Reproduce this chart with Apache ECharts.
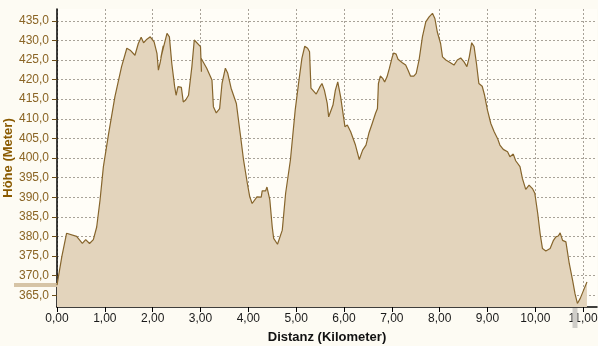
<!DOCTYPE html>
<html>
<head>
<meta charset="utf-8">
<script src="https://cdn.jsdelivr.net/npm/echarts@6/dist/echarts.min.js"></script>
<style>
html,body{margin:0;padding:0;background:#fdfbf3;}
#c{width:598px;height:346px;}
</style>
</head>
<body>
<div id="c"></div>
<script>
const distKm = [0,0.10,0.20,0.41,0.53,0.60,0.68,0.76,0.83,0.90,0.97,1.08,1.21,1.35,1.46,1.53,1.63,1.70,1.76,1.81,1.88,1.95,2.03,2.09,2.12,2.16,2.22,2.17,2.23,2.30,2.35,2.40,2.46,2.49,2.53,2.60,2.64,2.69,2.75,2.82,2.87,2.91,3.00,3.02,3.01,3.05,3.13,3.24,3.27,3.33,3.40,3.45,3.52,3.57,3.64,3.75,3.83,3.90,3.98,4.03,4.08,4.18,4.27,4.29,4.36,4.39,4.45,4.50,4.53,4.61,4.65,4.71,4.78,4.88,4.98,5.05,5.12,5.18,5.24,5.28,5.31,5.42,5.49,5.54,5.59,5.65,5.68,5.77,5.82,5.87,5.93,6.02,6.07,6.14,6.24,6.32,6.39,6.46,6.52,6.59,6.66,6.70,6.72,6.76,6.81,6.85,6.90,6.95,7.01,7.04,7.09,7.13,7.22,7.29,7.34,7.39,7.46,7.51,7.57,7.64,7.71,7.78,7.85,7.90,7.95,8.02,8.06,8.13,8.20,8.30,8.37,8.44,8.51,8.57,8.62,8.67,8.72,8.77,8.82,8.89,8.94,9.00,9.07,9.14,9.21,9.26,9.33,9.42,9.47,9.54,9.59,9.68,9.73,9.80,9.87,9.94,9.99,10.05,10.10,10.15,10.22,10.31,10.38,10.43,10.48,10.52,10.57,10.64,10.71,10.78,10.83,10.88,10.94,11.01,11.08];
const elevM = [367.6,374.8,380.8,380.0,378.2,379.2,378.2,379.2,382.4,389.3,397.8,406.3,415.6,423.3,428.0,427.5,426.2,429.2,430.8,429.4,430.3,430.9,429.6,426.7,422.4,424.5,428.6,425.5,428.4,431.8,430.9,424.1,418.2,416.0,418.2,418.0,414.3,414.8,416.0,423.3,430.1,430.5,428.4,422.0,425.5,425.0,422.9,419.9,413.1,411.5,412.6,419.0,422.9,421.6,417.8,413.9,406.3,399.5,393.5,390.1,388.4,390.1,390.0,391.6,391.6,392.6,389.3,382.4,379.5,378.0,378.2,381.6,391.0,399.5,412.2,419.0,425.4,428.5,428.0,427.1,417.8,416.3,418.0,419.0,417.3,413.9,410.5,413.5,417.3,419.4,415.6,408.0,408.4,406.7,403.3,399.6,402.0,403.3,406.3,408.8,411.4,412.6,419.0,420.9,420.3,419.4,420.7,422.9,425.8,426.8,426.5,425.2,424.3,423.7,422.4,420.9,420.9,421.6,425.0,430.9,434.7,436.0,436.9,435.6,432.2,429.2,425.8,425.0,424.5,423.7,425.0,425.5,424.5,423.3,425.8,429.4,428.4,424.1,419.0,418.3,416.0,412.2,408.8,406.7,405.0,403.3,402.2,401.6,400.3,401.0,399.3,397.8,394.8,392.0,393.1,392.2,391.0,385.9,380.8,376.9,376.3,376.9,379.0,379.9,380.1,380.9,379.0,378.6,373.1,368.8,365.4,362.9,364.2,366.3,368.4];
const yTicks = [365,370,375,380,385,390,395,400,405,410,415,420,425,430,435];
const xTicks = [0,1,2,3,4,5,6,7,8,9,10,11];
const markerKm = 10.83;

const chart = echarts.init(document.getElementById('c'));
const FONT = '"Liberation Sans", Arial, sans-serif';
const data = distKm.map((d, i) => [d, elevM[i]]);
chart.setOption({
  backgroundColor: '#fdfbf3',
  animation: false,
  grid: {left: 57, right: 1, top: 9, bottom: 39, outerBoundsMode: 'none', containLabel: false,
    show: true, backgroundColor: '#fffdf7', borderWidth: 0},
  xAxis: {
    type: 'value', min: 0, max: 11.29,
    name: 'Distanz (Kilometer)', nameLocation: 'middle', nameGap: 24, nameMoveOverlap: false,
    nameTextStyle: {fontFamily: FONT, fontSize: 13, fontWeight: 'bold', color: '#111', verticalAlign: 'top'},
    axisLine: {show: true, onZero: false, lineStyle: {color: '#000', width: 1.5}},
    axisTick: {show: true, length: 5, customValues: xTicks, lineStyle: {color: '#000'}},
    axisLabel: {customValues: xTicks, margin: 6, fontFamily: FONT, fontSize: 12, color: '#1a1a1a',
      formatter: v => v.toFixed(2).replace('.', ',')},
    splitLine: {show: true, lineStyle: {color: '#a8a298', type: [2, 2], width: 1}}
  },
  yAxis: {
    type: 'value', min: 362, max: 438,
    name: 'Höhe (Meter)', nameLocation: 'middle', nameGap: 42, nameRotate: 90, nameMoveOverlap: false,
    nameTextStyle: {fontFamily: FONT, fontSize: 13, fontWeight: 'bold', color: '#8a5a00'},
    axisLine: {show: true, onZero: false, lineStyle: {color: '#000', width: 1.5}},
    axisTick: {show: true, length: 5, customValues: yTicks, lineStyle: {color: '#6b4e1a'}},
    axisLabel: {customValues: yTicks, margin: 8, fontFamily: FONT, fontSize: 12, color: '#8a6424',
      formatter: v => v.toFixed(1).replace('.', ',')},
    splitLine: {show: true, lineStyle: {color: '#a8a298', type: [2, 2], width: 1}}
  },
  series: [{
    type: 'line', data: data, showSymbol: false, smooth: false,
    lineStyle: {color: '#86652c', width: 1.2},
    areaStyle: {color: '#e3d4bc', opacity: 1, origin: 'start'},
    z: 3
  }]
});

const p0 = chart.convertToPixel({gridIndex: 0}, [0, elevM[0]]);
const pm = chart.convertToPixel({gridIndex: 0}, [markerKm, 362]);
chart.setOption({
  graphic: [
    {type: 'rect', shape: {x: 14, y: p0[1] - 2, width: 57 - 14, height: 4}, style: {fill: '#d6c4a6'}, z: 1},
    {type: 'rect', shape: {x: pm[0] - 2.5, y: pm[1] + 1, width: 5, height: 20}, style: {fill: '#cfcdc8'}, z: 1}
  ]
});
</script>
</body>
</html>
